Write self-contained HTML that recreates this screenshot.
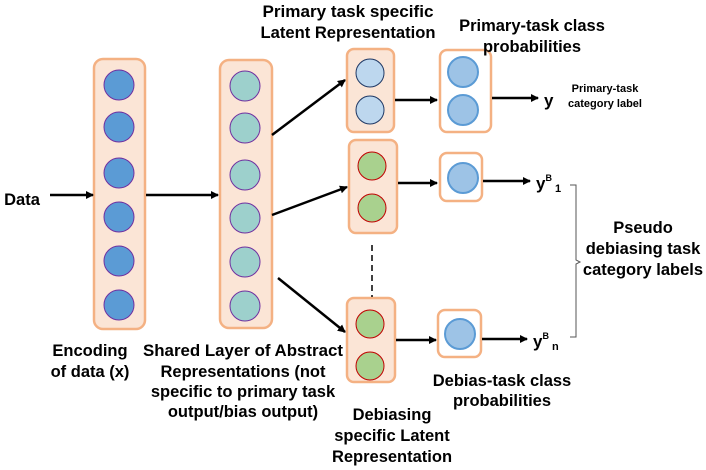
<html><body style="margin:0;background:#fff">
<svg width="706" height="470" xmlns="http://www.w3.org/2000/svg" font-family="Liberation Sans, sans-serif" font-weight="bold">
<defs><marker id="a" markerWidth="8" markerHeight="8" refX="7" refY="4" orient="auto" markerUnits="userSpaceOnUse"><path d="M0,0 L8,4 L0,8 z" fill="#000"/></marker></defs>
<g stroke="#f4b183" stroke-width="2.5">
<rect x="94" y="59" width="51" height="270" rx="9" fill="#fbe5d6"/>
<rect x="220" y="60" width="52" height="268" rx="9" fill="#fbe5d6"/>
<rect x="347" y="49" width="47" height="83" rx="7" fill="#fbe5d6"/>
<rect x="440" y="50" width="51" height="82" rx="7" fill="#fff"/>
<rect x="349" y="140" width="48" height="93" rx="7" fill="#fbe5d6"/>
<rect x="440" y="153" width="42" height="48" rx="7" fill="#fff"/>
<rect x="347" y="298" width="48" height="84" rx="7" fill="#fbe5d6"/>
<rect x="438" y="310" width="43" height="47" rx="7" fill="#fff"/>
</g>
<g fill="#5b9bd5" stroke="#7030a0" stroke-width="1">
<circle cx="119" cy="85" r="15"/><circle cx="119" cy="127" r="15"/><circle cx="119" cy="173" r="15"/><circle cx="119" cy="217" r="15"/><circle cx="119" cy="261" r="15"/><circle cx="119" cy="305" r="15"/>
</g>
<g fill="#9dd0cc" stroke="#7030a0" stroke-width="1">
<circle cx="245" cy="86" r="15"/><circle cx="245" cy="128" r="15"/><circle cx="245" cy="175" r="15"/><circle cx="245" cy="218" r="15"/><circle cx="245" cy="262" r="15"/><circle cx="245" cy="306" r="15"/>
</g>
<g fill="#bdd7ee" stroke="#1f3864" stroke-width="1"><circle cx="370" cy="73" r="14"/><circle cx="370" cy="110" r="14"/></g>
<g fill="#9dc3e6" stroke="#5b9bd5" stroke-width="2"><circle cx="463" cy="72" r="15"/><circle cx="463" cy="110" r="15"/><circle cx="463" cy="178" r="15"/><circle cx="460" cy="334" r="15"/></g>
<g fill="#a9d18e" stroke="#c00000" stroke-width="1"><circle cx="372" cy="166" r="14"/><circle cx="372" cy="208" r="14"/><circle cx="370" cy="324" r="14"/><circle cx="370" cy="366" r="14"/></g>
<g stroke="#000" stroke-width="2.5" marker-end="url(#a)">
<line x1="50" y1="195" x2="93" y2="195"/><line x1="146" y1="195" x2="218" y2="195"/>
<line x1="272" y1="135" x2="345" y2="80"/><line x1="272" y1="215" x2="347" y2="187"/><line x1="278" y1="278" x2="345" y2="332"/>
<line x1="395" y1="100" x2="437" y2="100"/><line x1="398" y1="183" x2="437" y2="183"/><line x1="396" y1="340" x2="436" y2="340"/>
<line x1="492" y1="98" x2="538" y2="98"/><line x1="483" y1="181" x2="530" y2="181"/><line x1="482" y1="339" x2="527" y2="339"/>
</g>
<line x1="372" y1="245" x2="372" y2="297" stroke="#000" stroke-width="1.5" stroke-dasharray="6,4"/>
<path d="M570,185 h6 v75 l4,2 l-4,2 v73 h-6" fill="none" stroke="#555" stroke-width="1"/>
<g font-size="16.5" text-anchor="middle" fill="#000">
<text x="348" y="17" textLength="171" lengthAdjust="spacingAndGlyphs">Primary task specific</text><text x="348" y="38" textLength="175" lengthAdjust="spacingAndGlyphs">Latent Representation</text>
<text x="532" y="31">Primary-task class</text><text x="532" y="52">probabilities</text>
<text x="22" y="205">Data</text>
<text x="90" y="356">Encoding</text><text x="90" y="377">of data (x)</text>
<text x="243" y="356" textLength="200" lengthAdjust="spacingAndGlyphs">Shared Layer of Abstract</text><text x="243" y="377">Representations (not</text><text x="243" y="397">specific to primary task</text><text x="243" y="417">output/bias output)</text>
<text x="392" y="420">Debiasing</text><text x="392" y="441">specific Latent</text><text x="392" y="462">Representation</text>
<text x="502" y="386">Debias-task class</text><text x="502" y="406">probabilities</text>
<text x="643" y="233">Pseudo</text><text x="643" y="254">debiasing task</text><text x="643" y="275">category labels</text>
<text x="605" y="92" font-size="11">Primary-task</text><text x="605" y="107" font-size="11">category label</text>
</g>
<g font-size="17" fill="#000">
<text x="544" y="106">y</text>
<text x="536" y="189">y<tspan font-size="9" dy="-8">B</tspan><tspan font-size="11" dy="11"> 1</tspan></text>
<text x="533" y="347">y<tspan font-size="9" dy="-8">B</tspan><tspan font-size="11" dy="11"> n</tspan></text>
</g>
</svg>
</body></html>
